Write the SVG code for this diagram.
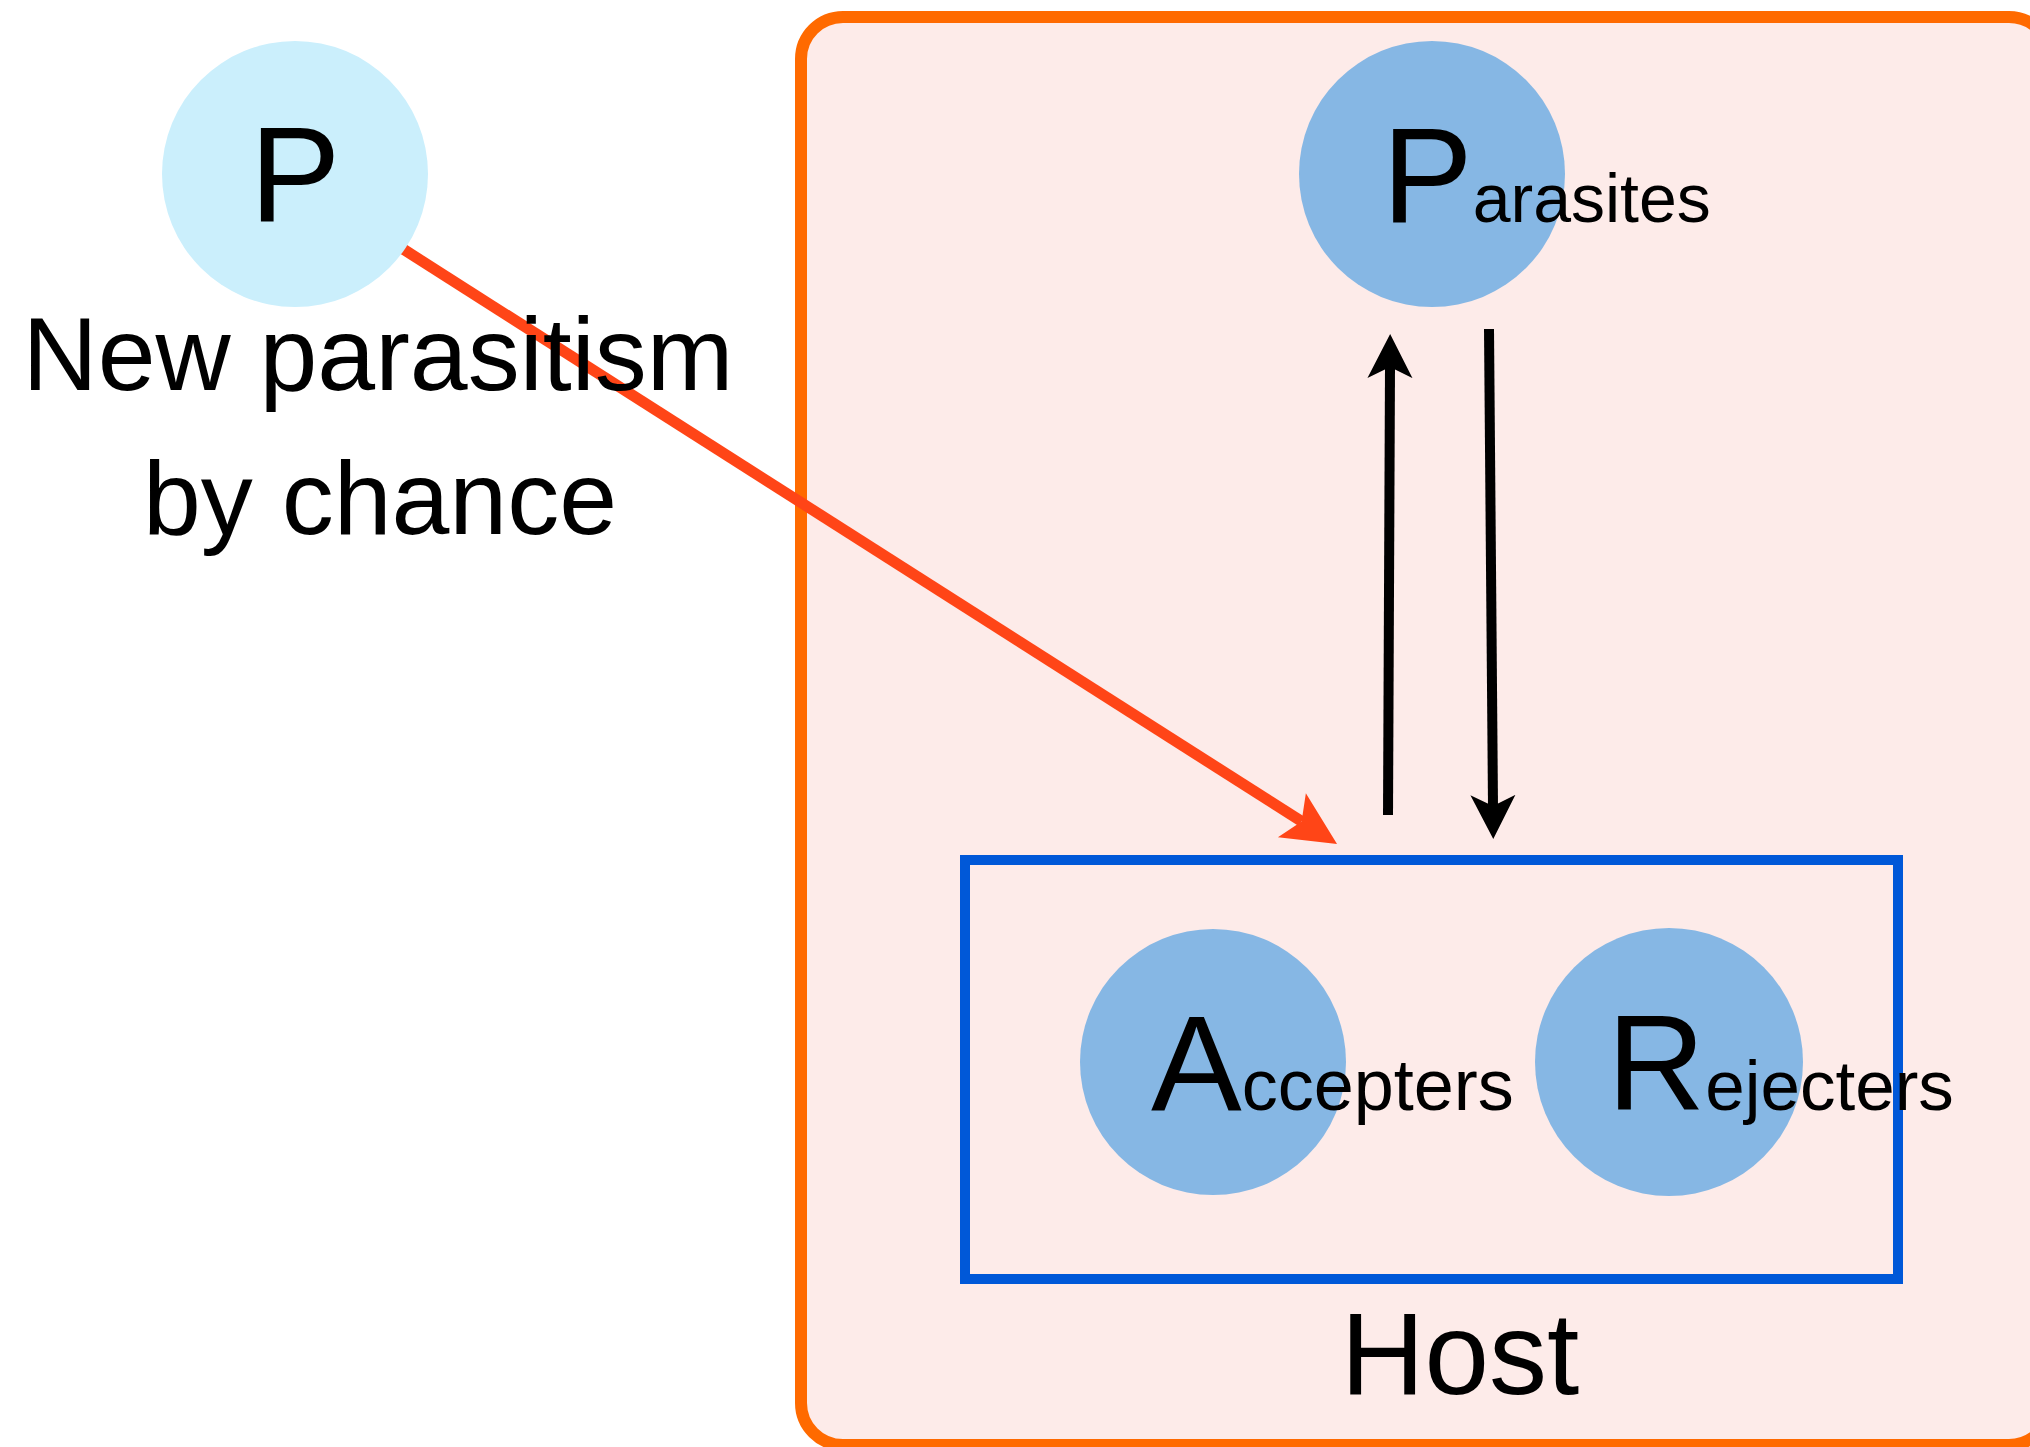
<svg xmlns="http://www.w3.org/2000/svg" width="2030" height="1447" viewBox="0 0 2030 1447">
  <style>
    .lbl { font-family: "Liberation Sans", Arial, sans-serif; fill: #000; }
    .big { font-size: 136px; }
    .pop { fill: #86B7E4; }
    .edge { fill: none; stroke-linecap: butt; }
    .black { stroke: #000; stroke-width: 10; }
    .red { stroke: #FF4517; stroke-width: 11; }
  </style>
  <defs>
    <marker id="head-black" markerUnits="userSpaceOnUse" viewBox="0 0 50 50" markerWidth="50" markerHeight="50" refX="11" refY="25" orient="auto">
      <path d="M44,25 L0,2.5 L11,25 L0,47.5 Z" fill="#000"/>
    </marker>
    <marker id="head-red" markerUnits="userSpaceOnUse" viewBox="0 0 60 60" markerWidth="60" markerHeight="60" refX="12" refY="30" orient="auto">
      <path d="M54,30 L0.5,4 L12,30 L0.5,56 Z" fill="#FF4517"/>
    </marker>
  </defs>

  <rect width="2030" height="1447" fill="#fff"/>

  <!-- host compartment -->
  <g id="host">
    <rect x="801" y="17" width="1250" height="1428" rx="42" ry="42" fill="#FDEBE9" stroke="#FF6A00" stroke-width="12"/>
    <text class="lbl" x="1460" y="1394" font-size="116" text-anchor="middle">Host</text>
  </g>

  <!-- host population box -->
  <g id="host-population">
    <rect x="965" y="860" width="933" height="419" fill="none" stroke="#0058D8" stroke-width="10"/>
  </g>

  <g id="parasites">
    <circle class="pop" cx="1432" cy="174" r="133"/>
    <text class="lbl" x="1382" y="222"><tspan class="big">P</tspan><tspan font-size="68">arasites</tspan></text>
  </g>

  <g id="accepters">
    <circle class="pop" cx="1213" cy="1062" r="133"/>
    <text class="lbl" x="1151" y="1110"><tspan class="big">A</tspan><tspan font-size="72">ccepters</tspan></text>
  </g>

  <g id="rejecters">
    <circle class="pop" cx="1669" cy="1062" r="134"/>
    <text class="lbl" x="1607" y="1110"><tspan class="big">R</tspan><tspan font-size="71">ejecters</tspan></text>
  </g>

  <!-- connectors -->
  <g id="connectors">
    <line class="edge black" x1="1388" y1="815" x2="1390" y2="367" marker-end="url(#head-black)"/>
    <line class="edge black" x1="1489" y1="329" x2="1493" y2="806" marker-end="url(#head-black)"/>
    <line class="edge red" x1="403" y1="249" x2="1301.6" y2="821.4" marker-end="url(#head-red)"/>
  </g>

  <!-- free-living parasite -->
  <g id="new-parasite">
    <circle cx="295" cy="174" r="133" fill="#CBEFFC"/>
    <text class="lbl big" x="295" y="221" text-anchor="middle">P</text>
    <text class="lbl" x="378" y="390" font-size="104" text-anchor="middle">New parasitism</text>
    <text class="lbl" x="380" y="534" font-size="104" text-anchor="middle">by chance</text>
  </g>
</svg>
